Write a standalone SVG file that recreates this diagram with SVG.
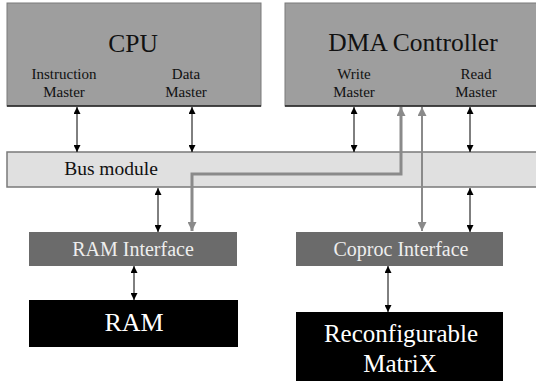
<svg xmlns="http://www.w3.org/2000/svg" width="536" height="381" viewBox="0 0 536 381" font-family="'Liberation Serif', 'Times New Roman', 'DejaVu Serif', serif">
<defs>
<style>
text{font-family:'Liberation Serif','Times New Roman','DejaVu Serif',serif;text-anchor:middle}
.big{font-size:25.5px;fill:#111}
.sm{font-size:15px;fill:#111}
.bar{fill:#9e9e9e;stroke:#7a7a7a;stroke-width:1}
.k{stroke:#000;stroke-width:1;fill:none}
.g{stroke:#8a8a8a;stroke-width:3;fill:none}
.g2{stroke:#8a8a8a;stroke-width:2;fill:none}
</style>
<marker id="ak" viewBox="0 0 10 10" refX="10" refY="5" markerWidth="7" markerHeight="7" markerUnits="userSpaceOnUse" orient="auto-start-reverse">
<path d="M0,0 L10,5 L0,10 z" fill="#000"/>
</marker>
<marker id="ag" viewBox="0 0 10 10" refX="10" refY="5" markerWidth="9" markerHeight="9" markerUnits="userSpaceOnUse" orient="auto-start-reverse">
<path d="M0,0 L10,5 L0,10 z" fill="#8a8a8a"/>
</marker>
</defs>
<rect width="536" height="381" fill="#fff"/>
<g id="cpu">
<rect class="bar" x="7" y="3" width="254" height="103"/>
<line x1="7" y1="106" x2="261" y2="106" stroke="#222" stroke-width="1.5"/>
<text class="big" x="133" y="52">CPU</text>
<text class="sm" x="64" y="79">Instruction</text>
<text class="sm" x="64" y="97">Master</text>
<text class="sm" x="186" y="79">Data</text>
<text class="sm" x="186" y="97">Master</text>
</g>
<g id="dma">
<rect class="bar" x="285" y="3" width="252" height="103"/>
<line x1="285" y1="106" x2="536" y2="106" stroke="#222" stroke-width="1.5"/>
<text class="big" x="413" y="51">DMA Controller</text>
<text class="sm" x="354" y="79">Write</text>
<text class="sm" x="476" y="79">Read</text>
<text class="sm" x="354" y="97">Master</text>
<text class="sm" x="476" y="97">Master</text>
</g>
<g id="bus">
<rect x="7" y="152" width="530" height="35" fill="#e0e0e0" stroke="#7a7a7a" stroke-width="1.5"/>
<text x="111" y="175" font-size="19.5" fill="#111">Bus module</text>
</g>
<g id="ramif">
<rect x="29" y="232" width="208" height="34" fill="#6b6b6b"/>
<text x="133" y="256" font-size="20" fill="#eee">RAM Interface</text>
</g>
<g id="coprocif">
<rect x="296" y="232" width="207" height="34" fill="#6b6b6b"/>
<text x="401" y="256" font-size="20" fill="#eee">Coproc Interface</text>
</g>
<g id="ram">
<rect x="29" y="300" width="209" height="47" fill="#000"/>
<text x="134" y="331" font-size="26" fill="#fff">RAM</text>
</g>
<g id="matrix">
<rect x="296" y="312" width="207" height="69" fill="#000"/>
<text x="401" y="342" font-size="25" fill="#fff">Reconfigurable</text>
<text x="400" y="372" font-size="25" fill="#fff">MatriX</text>
</g>
<g id="connectors">
<line class="k" x1="77" y1="107" x2="77" y2="152" marker-start="url(#ak)" marker-end="url(#ak)"/>
<line class="k" x1="192" y1="107" x2="192" y2="152" marker-start="url(#ak)" marker-end="url(#ak)"/>
<line class="k" x1="354" y1="107" x2="354" y2="152" marker-start="url(#ak)" marker-end="url(#ak)"/>
<line class="k" x1="470" y1="107" x2="470" y2="152" marker-start="url(#ak)" marker-end="url(#ak)"/>
<line class="k" x1="158" y1="188" x2="158" y2="232" marker-start="url(#ak)" marker-end="url(#ak)"/>
<line class="k" x1="470" y1="188" x2="470" y2="232" marker-start="url(#ak)" marker-end="url(#ak)"/>
<line class="k" x1="134" y1="266" x2="134" y2="300" marker-start="url(#ak)" marker-end="url(#ak)"/>
<line class="k" x1="388" y1="266" x2="388" y2="312" marker-start="url(#ak)" marker-end="url(#ak)"/>
<path class="g" d="M401,107 V174 H192 V231" marker-start="url(#ag)" marker-end="url(#ag)"/>
<line class="g2" x1="422" y1="107" x2="422" y2="231" marker-start="url(#ag)" marker-end="url(#ag)"/>
</g>
</svg>
